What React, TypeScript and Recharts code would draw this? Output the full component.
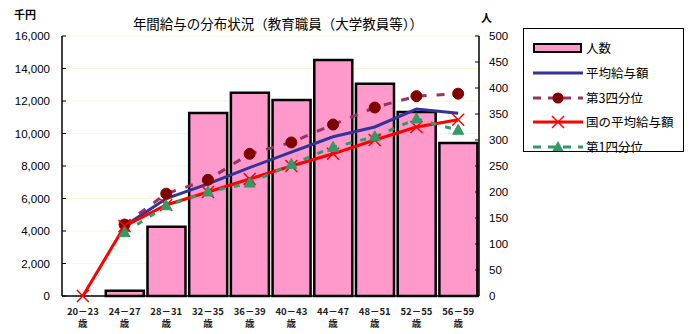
import React from 'react';
import { ComposedChart, Bar, Line, XAxis, YAxis, CartesianGrid, Legend } from 'recharts';

const categories = ['20－23', '24－27', '28－31', '32－35', '36－39', '40－43', '44－47', '48－51', '52－55', '56－59'];
const headcount = [0, 10, 133, 352, 391, 377, 454, 408, 354, 294];
const avgSalary = [null, 4300, 6000, 6900, 7900, 8850, 9800, 10400, 11500, 11250];
const thirdQuartile = [null, 4400, 6300, 7150, 8750, 9450, 10550, 11600, 12300, 12450];
const nationalAvg = [0, 4300, 5600, 6400, 7200, 8000, 8750, 9600, 10400, 10850];
const firstQuartile = [null, 3900, 5550, 6400, 6950, 8100, 9150, 9800, 10900, 10200];
const leftTicks = [0, 2000, 4000, 6000, 8000, 10000, 12000, 14000, 16000];
const rightTicks = [0, 50, 100, 150, 200, 250, 300, 350, 400, 450, 500];

const data = categories.map((c, i) => ({
  cat: c,
  headcount: headcount[i],
  avg: avgSalary[i],
  q3: thirdQuartile[i],
  nat: nationalAvg[i],
  q1: firstQuartile[i],
}));

const NUM_FONT = '"Liberation Sans", Arial, "Noto Sans CJK JP", sans-serif';
const JP_FONT = '"Noto Sans CJK JP", "Liberation Sans", sans-serif';

const PINK = '#ff99cc';
const BLUE = '#333399';
const Q3C = '#993366';
const Q3DOT = '#800000';
const RED = '#ff0000';
const GREEN = '#339966';

const LeftTick = (props: any) => {
  const { x, y, payload } = props;
  return (
    <g>
      <line x1={x + 12} x2={x + 16} y1={y} y2={y} stroke="#000" strokeWidth={1} />
      <text x={x} y={y} dy={4} textAnchor="end" fontSize={11.5} fontFamily={NUM_FONT} fill="#000">
        {Number(payload.value).toLocaleString('en-US')}
      </text>
    </g>
  );
};

const RightTick = (props: any) => {
  const { x, y, payload } = props;
  return (
    <g>
      <line x1={x - 14} x2={x - 10} y1={y} y2={y} stroke="#000" strokeWidth={1} />
      <text x={x} y={y} dy={4} textAnchor="start" fontSize={11.5} fontFamily={NUM_FONT} fill="#000">
        {payload.value}
      </text>
    </g>
  );
};

const BottomTick = (props: any) => {
  const { x, y, payload } = props;
  return (
    <g>
      <text x={x} y={y + 16.5} textAnchor="middle" fontSize={9.5} fontWeight="bold" fontFamily={JP_FONT} fill="#222">
        {payload.value}
      </text>
      <text x={x} y={y + 29} textAnchor="middle" fontSize={9.5} fontWeight="bold" fontFamily={JP_FONT} fill="#222">
        歳
      </text>
    </g>
  );
};

const CircleDot = (props: any) => {
  const { cx, cy, value } = props;
  if (value == null || cx == null || cy == null) return <g />;
  return <circle cx={cx} cy={cy} r={5.5} fill={Q3DOT} stroke={Q3DOT} />;
};

const CrossDot = (props: any) => {
  const { cx, cy, value } = props;
  if (value == null || cx == null || cy == null) return <g />;
  const s = 6;
  return (
    <g stroke={RED} strokeWidth={1.5}>
      <line x1={cx - s} y1={cy - s} x2={cx + s} y2={cy + s} />
      <line x1={cx - s} y1={cy + s} x2={cx + s} y2={cy - s} />
    </g>
  );
};

const TriDot = (props: any) => {
  const { cx, cy, value } = props;
  if (value == null || cx == null || cy == null) return <g />;
  return <polygon points={`${cx},${cy - 6} ${cx + 5.5},${cy + 4} ${cx - 5.5},${cy + 4}`} fill={GREEN} stroke={GREEN} />;
};

const legendItems = [
  { key: 'bar', label: '人数' },
  { key: 'avg', label: '平均給与額' },
  { key: 'q3', label: '第3四分位' },
  { key: 'nat', label: '国の平均給与額' },
  { key: 'q1', label: '第1四分位' },
];

const LegendSymbol = ({ k }: { k: string }) => {
  const w = 50, h = 16, cy = 8, cx = 25;
  let inner: any = null;
  if (k === 'bar') inner = <rect x={1} y={4} width={47} height={8} fill={PINK} stroke="#000" strokeWidth={2} />;
  if (k === 'avg') inner = <line x1={0} x2={w} y1={cy} y2={cy} stroke={BLUE} strokeWidth={3} />;
  if (k === 'q3') inner = (
    <g>
      <line x1={0} x2={w} y1={cy} y2={cy} stroke={Q3C} strokeWidth={3} strokeDasharray="8 7" />
      <circle cx={cx} cy={cy} r={5.5} fill={Q3DOT} />
    </g>
  );
  if (k === 'nat') inner = (
    <g>
      <line x1={0} x2={w} y1={cy} y2={cy} stroke={RED} strokeWidth={3} />
      <g stroke={RED} strokeWidth={1.5}>
        <line x1={cx - 6} y1={cy - 6} x2={cx + 6} y2={cy + 6} />
        <line x1={cx - 6} y1={cy + 6} x2={cx + 6} y2={cy - 6} />
      </g>
    </g>
  );
  if (k === 'q1') inner = (
    <g>
      <line x1={0} x2={w} y1={cy} y2={cy} stroke={GREEN} strokeWidth={3} strokeDasharray="8 7" />
      <polygon points={`${cx},${cy - 6} ${cx + 5.5},${cy + 4} ${cx - 5.5},${cy + 4}`} fill={GREEN} />
    </g>
  );
  return <svg width={w} height={h} style={{ display: 'block', flex: 'none' }}>{inner}</svg>;
};

const LegendContent = () => (
  <div style={{ border: '1px solid #000', background: '#fff', width: 161, height: 124, boxSizing: 'border-box', padding: '7px 0 0 9px' }}>
    {legendItems.map((it) => (
      <div key={it.key} style={{ display: 'flex', alignItems: 'center', height: 24.7 }}>
        <LegendSymbol k={it.key} />
        <span style={{ fontFamily: JP_FONT, fontSize: 12.5, color: '#000', marginLeft: 3, lineHeight: '16px', whiteSpace: 'nowrap' }}>{it.label}</span>
      </div>
    ))}
  </div>
);

export default function App() {
  return (
    <div style={{ position: 'absolute', left: 0, top: 0, width: 690, height: 334, background: '#fff' }}>
      <ComposedChart width={690} height={334} data={data} margin={{ top: 36, right: 171, bottom: 0, left: 0 }} barCategoryGap="5%">
        <CartesianGrid yAxisId="left" horizontal vertical={false} stroke="#fbf6d8" strokeWidth={1} />
        <XAxis dataKey="cat" height={38} tickLine={false} tickSize={0} tick={<BottomTick />} interval={0} axisLine={{ stroke: '#000', strokeWidth: 1.5 }} />
        <YAxis yAxisId="left" orientation="left" width={62} domain={[0, 16000]} ticks={leftTicks} interval={0} tickLine={false} tickSize={0} tickMargin={12} tick={<LeftTick />} axisLine={{ stroke: '#000', strokeWidth: 1.5 }} />
        <YAxis yAxisId="right" orientation="right" width={40} domain={[0, 500]} ticks={rightTicks} interval={0} tickLine={false} tickSize={0} tickMargin={10} tick={<RightTick />} axisLine={{ stroke: '#000', strokeWidth: 1.5 }} />
        <Bar yAxisId="right" dataKey="headcount" fill={PINK} stroke="#000" strokeWidth={2.5} isAnimationActive={false} />
        <Line yAxisId="left" dataKey="avg" stroke={BLUE} strokeWidth={3} dot={false} isAnimationActive={false} />
        <Line yAxisId="left" dataKey="q3" stroke={Q3C} strokeWidth={3} strokeDasharray="8 10" dot={<CircleDot />} activeDot={false} isAnimationActive={false} />
        <Line yAxisId="left" dataKey="nat" stroke={RED} strokeWidth={3} dot={<CrossDot />} activeDot={false} isAnimationActive={false} />
        <Line yAxisId="left" dataKey="q1" stroke={GREEN} strokeWidth={3} strokeDasharray="6 9" dot={<TriDot />} activeDot={false} isAnimationActive={false} />
        <Legend layout="vertical" align="center" verticalAlign="middle" content={<LegendContent />} wrapperStyle={{ position: 'absolute', left: 523, top: 28, width: 161, height: 124 }} />
        <text x={278} y={29} textAnchor="middle" fontSize={13.5} fontFamily={JP_FONT} fill="#000">年間給与の分布状況（教育職員（大学教員等））</text>
        <text x={14} y={19} fontSize={11} fontWeight="bold" fontFamily={JP_FONT} fill="#000">千円</text>
        <text x={481} y={22} fontSize={11} fontWeight="bold" fontFamily={JP_FONT} fill="#000">人</text>
      </ComposedChart>
    </div>
  );
}
